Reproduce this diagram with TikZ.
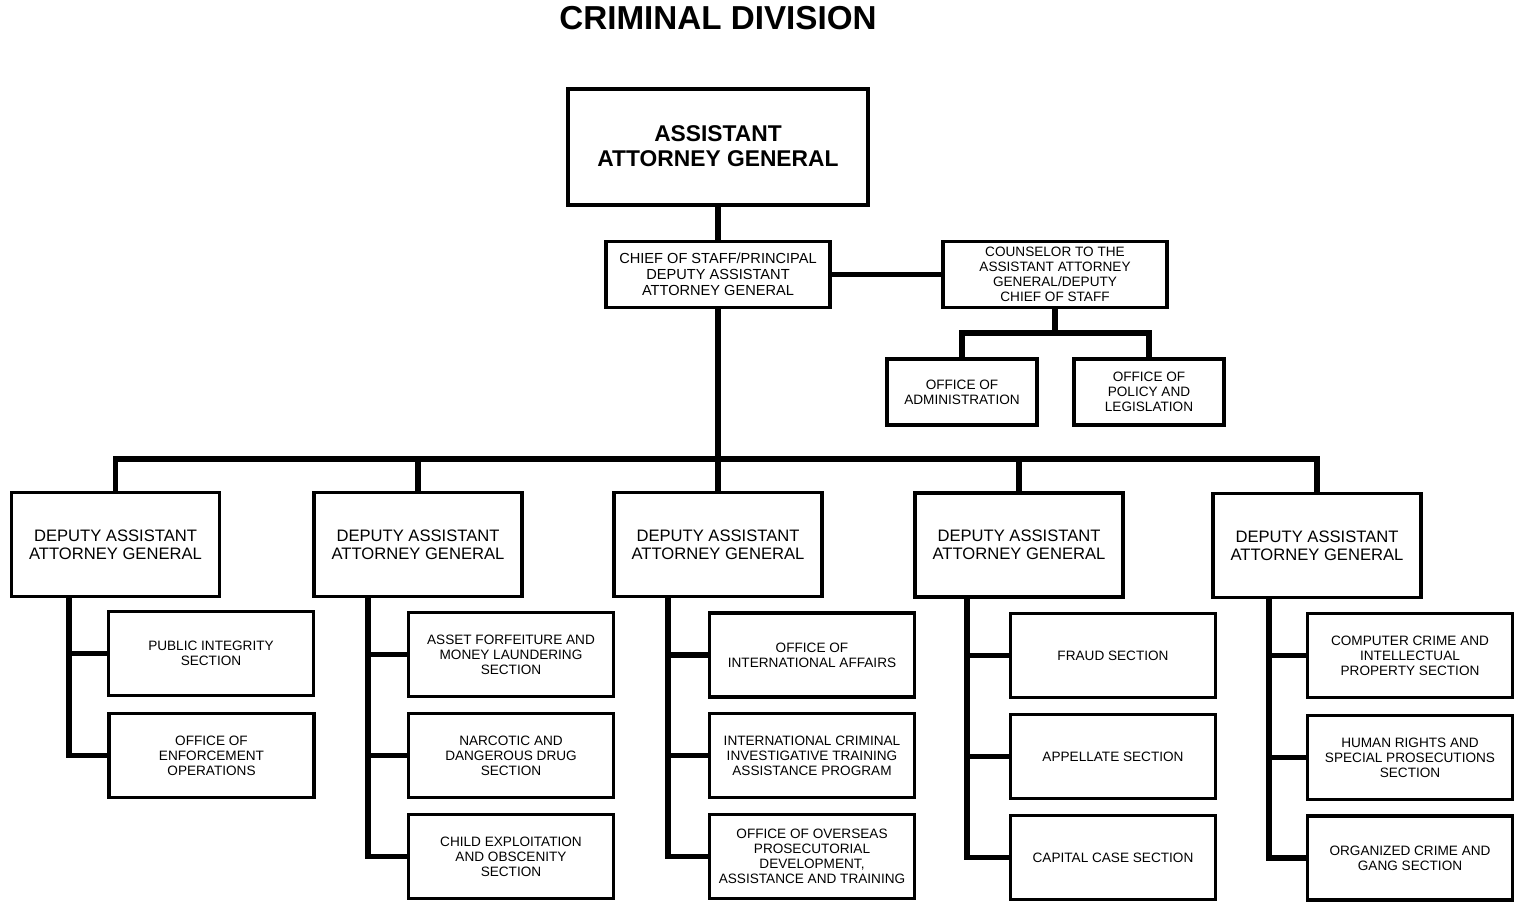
\documentclass[tikz,border=0pt]{standalone}
\usepackage{fontspec}
\setmainfont{Liberation Sans}
\usetikzlibrary{calc}
\begin{document}
\begin{tikzpicture}[
  x=0.5pt, y=-0.5pt,
  caja/.style={draw=black, line width=1.8pt, rectangle, align=center, inner sep=1pt},
  daag/.style={caja, minimum width=104pt, minimum height=52pt, font=\fontsize{8.3pt}{9pt}\selectfont},
  sub/.style={caja, minimum width=102.5pt, minimum height=42pt, font=\fontsize{6.8pt}{7.5pt}\selectfont},
  linea/.style={draw=black, line width=2.8pt}
]
\useasboundingbox (0,0) rectangle (1514,901);
\node (titulo) at (718,18) {\fontsize{16.6pt}{18pt}\selectfont\bfseries CRIMINAL DIVISION};

% cabeza
\node[caja, minimum width=150pt, minimum height=58pt, font=\fontsize{11.4pt}{12.5pt}\selectfont\bfseries, line width=2pt]
  (aag) at (718,146.5) {ASSISTANT\\ATTORNEY GENERAL};
\node[caja, minimum width=112pt, minimum height=33pt, font=\fontsize{7.3pt}{8pt}\selectfont]
  (cos) at (718,274.5) {CHIEF OF STAFF/PRINCIPAL\\DEPUTY ASSISTANT\\ATTORNEY GENERAL};
\node[caja, minimum width=112pt, minimum height=33pt, font=\fontsize{6.8pt}{7.5pt}\selectfont]
  (cou) at (1055,274.5) {COUNSELOR TO THE\\ASSISTANT ATTORNEY\\GENERAL/DEPUTY\\CHIEF OF STAFF};
\node[caja, minimum width=75pt, minimum height=33pt, font=\fontsize{6.8pt}{7.5pt}\selectfont]
  (adm) at (962,392) {OFFICE OF\\ADMINISTRATION};
\node[caja, minimum width=75pt, minimum height=33pt, font=\fontsize{6.8pt}{7.5pt}\selectfont]
  (pol) at (1149,392) {OFFICE OF\\POLICY AND\\LEGISLATION};

% adjuntos
\node[daag] (d1) at (115.5,544.5) {DEPUTY ASSISTANT\\ATTORNEY GENERAL};
\node[daag] (d2) at (418,544.5) {DEPUTY ASSISTANT\\ATTORNEY GENERAL};
\node[daag] (d3) at (718,544.5) {DEPUTY ASSISTANT\\ATTORNEY GENERAL};
\node[daag] (d4) at (1019,545) {DEPUTY ASSISTANT\\ATTORNEY GENERAL};
\node[daag] (d5) at (1317,545.5) {DEPUTY ASSISTANT\\ATTORNEY GENERAL};

% secciones
\node[sub] (s1a) at (211,653.5) {PUBLIC INTEGRITY\\SECTION};
\node[sub] (s1b) at (211.5,755.5) {OFFICE OF\\ENFORCEMENT\\OPERATIONS};
\node[sub] (s2a) at (511,654.5) {ASSET FORFEITURE AND\\MONEY LAUNDERING\\SECTION};
\node[sub] (s2b) at (511,755.5) {NARCOTIC AND\\DANGEROUS DRUG\\SECTION};
\node[sub] (s2c) at (511,856.5) {CHILD EXPLOITATION\\AND OBSCENITY\\SECTION};
\node[sub] (s3a) at (812,655) {OFFICE OF\\INTERNATIONAL AFFAIRS};
\node[sub] (s3b) at (812,755.5) {INTERNATIONAL CRIMINAL\\INVESTIGATIVE TRAINING\\ASSISTANCE PROGRAM};
\node[sub] (s3c) at (812,856.5) {OFFICE OF OVERSEAS\\PROSECUTORIAL\\DEVELOPMENT,\\ASSISTANCE AND TRAINING};
\node[sub] (s4a) at (1113,655.5) {FRAUD SECTION};
\node[sub] (s4b) at (1113,756.5) {APPELLATE SECTION};
\node[sub] (s4c) at (1113,857.5) {CAPITAL CASE SECTION};
\node[sub] (s5a) at (1410,655.5) {COMPUTER CRIME AND\\INTELLECTUAL\\PROPERTY SECTION};
\node[sub] (s5b) at (1410,757.5) {HUMAN RIGHTS AND\\SPECIAL PROSECUTIONS\\SECTION};
\node[sub] (s5c) at (1410,858) {ORGANIZED CRIME AND\\GANG SECTION};

% lineas
\coordinate (barra) at (718,459);
\coordinate (rama) at (1055,333);
\draw[linea] (aag.south) -- (cos.north);
\draw[linea] (cos.east) -- (cou.west);
\draw[linea] (cou.south) -- (rama);
\draw[linea] (adm.north) |- (rama) -| (pol.north);
\draw[linea] (cos.south) -- (barra);
\draw[linea] (d1.north) |- (barra) -| (d5.north);
\foreach \d in {d2,d3,d4}
  \draw[linea] (\d.north) -- (\d.north |- barra);

\coordinate (t1) at ($(d1.south west)+(59,0)$);
\coordinate (t2) at ($(d2.south west)+(56,0)$);
\coordinate (t3) at ($(d3.south west)+(56,0)$);
\coordinate (t4) at ($(d4.south west)+(54,0)$);
\coordinate (t5) at ($(d5.south west)+(58,0)$);
\foreach \s in {a,b}
  \draw[linea] (t1) |- (s1\s.west);
\foreach \c in {2,3,4,5}
  \foreach \s in {a,b,c}
    \draw[linea] (t\c) |- (s\c\s.west);
\end{tikzpicture}
\end{document}
